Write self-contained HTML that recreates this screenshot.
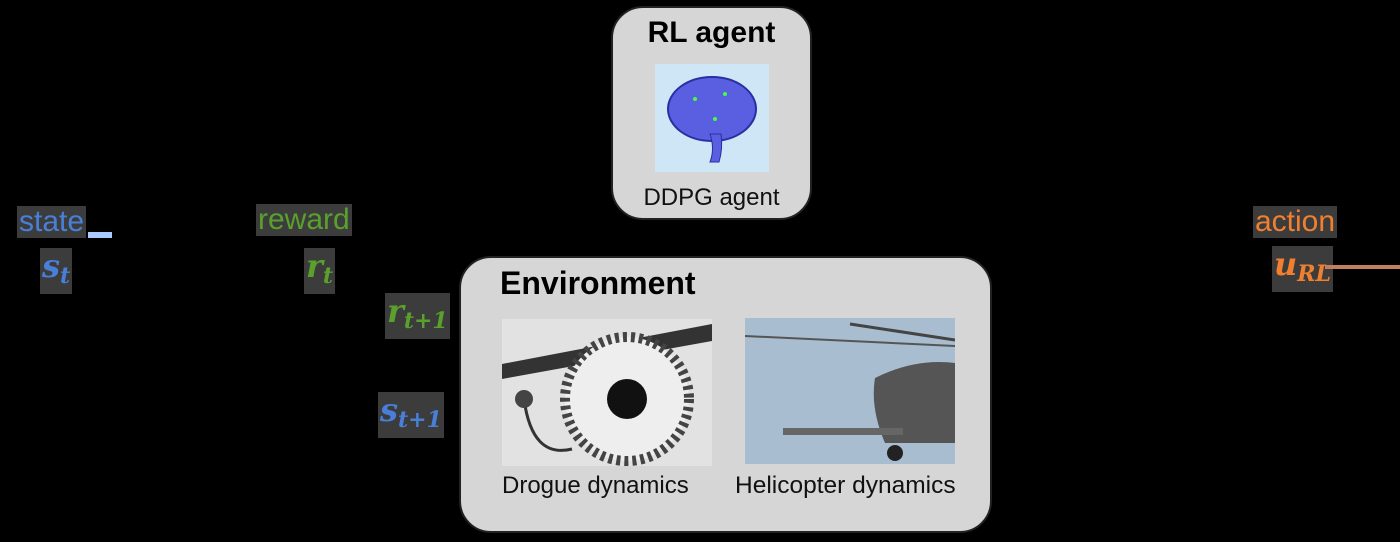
<!DOCTYPE html>
<html><head><style>
body{margin:0;width:1400px;height:542px;background:#000;position:relative;overflow:hidden;font-family:"Liberation Sans",sans-serif}
.box{position:absolute;background:#d6d6d6;border:2px solid #222;border-radius:32px;box-sizing:border-box}
.t{position:absolute;white-space:nowrap}
.lbl{position:absolute;background:#3c3c3c;padding:0 2px;font-size:30px;line-height:32px}
.m{font-family:"DejaVu Serif",serif;font-style:italic;font-weight:bold;font-size:32px;line-height:36px}
.m sub{font-size:22px;vertical-align:-6px}
</style></head><body>
<div class="box" style="left:611px;top:6px;width:201px;height:214px"></div>
<div class="t" style="left:611px;width:201px;text-align:center;top:16px;font-size:30px;font-weight:bold">RL agent</div>
<div style="position:absolute;left:655px;top:64px;width:114px;height:108px;background:#cfe6f7">
<svg width="114" height="108"><ellipse cx="57" cy="45" rx="44" ry="32" fill="#5a5ee0" stroke="#2a2ea0" stroke-width="2"/><path d="M55 70 Q60 85 55 98 L64 98 Q68 85 66 70Z" fill="#5a5ee0" stroke="#2a2ea0"/><circle cx="40" cy="35" r="2" fill="#4f4"/><circle cx="70" cy="30" r="2" fill="#4f4"/><circle cx="60" cy="55" r="2" fill="#4f4"/></svg></div>
<div class="t" style="left:611px;width:201px;text-align:center;top:184px;font-size:24px;color:#111">DDPG agent</div>

<div class="box" style="left:459px;top:256px;width:533px;height:277px"></div>
<div class="t" style="left:500px;top:265px;font-size:32px;font-weight:bold">Environment</div>
<div style="position:absolute;left:502px;top:319px;width:210px;height:147px;background:#e2e2e2;overflow:hidden">
<svg width="210" height="147"><path d="M0 45 L210 5 L210 22 L0 60Z" fill="#333"/><circle cx="125" cy="80" r="62" fill="#eee" stroke="#444" stroke-width="10" stroke-dasharray="4 4"/><circle cx="125" cy="80" r="20" fill="#111"/><path d="M22 80 Q30 140 70 130" stroke="#333" stroke-width="3" fill="none"/><circle cx="22" cy="80" r="9" fill="#444"/></svg></div>
<div style="position:absolute;left:745px;top:318px;width:210px;height:146px;background:#a9bdd0;overflow:hidden">
<svg width="210" height="146"><line x1="105" y1="6" x2="210" y2="22" stroke="#444" stroke-width="3"/><line x1="0" y1="18" x2="210" y2="28" stroke="#555" stroke-width="2"/><path d="M130 60 Q170 40 210 45 L210 125 L140 125 Q125 90 130 60Z" fill="#555"/><rect x="38" y="110" width="120" height="7" fill="#666"/><circle cx="150" cy="135" r="8" fill="#222"/></svg></div>
<div class="t" style="left:502px;top:472px;font-size:24px;color:#111">Drogue dynamics</div>
<div class="t" style="left:735px;top:472px;font-size:24.5px;color:#111">Helicopter dynamics</div>

<div class="lbl" style="left:17px;top:206px;color:#4a7fd8">state</div>
<div style="position:absolute;left:88px;top:232px;width:24px;height:6px;background:#a9cbff"></div>
<div class="lbl m" style="left:40px;top:248px;color:#4a7fd8">s<sub>t</sub></div>
<div class="lbl" style="left:256px;top:204px;color:#5aa02c">reward</div>
<div class="lbl m" style="left:304px;top:248px;color:#5aa02c">r<sub>t</sub></div>
<div class="lbl m" style="left:385px;top:293px;color:#5aa02c">r<sub>t+1</sub></div>
<div class="lbl m" style="left:378px;top:392px;color:#4a7fd8">s<sub>t+1</sub></div>
<div class="lbl" style="left:1253px;top:206px;color:#f08030">action</div>
<div class="lbl m" style="left:1272px;top:246px;color:#f08030">u<sub>RL</sub></div>
<div style="position:absolute;left:1325px;top:265px;width:75px;height:4px;background:#c08060"></div>
</body></html>
